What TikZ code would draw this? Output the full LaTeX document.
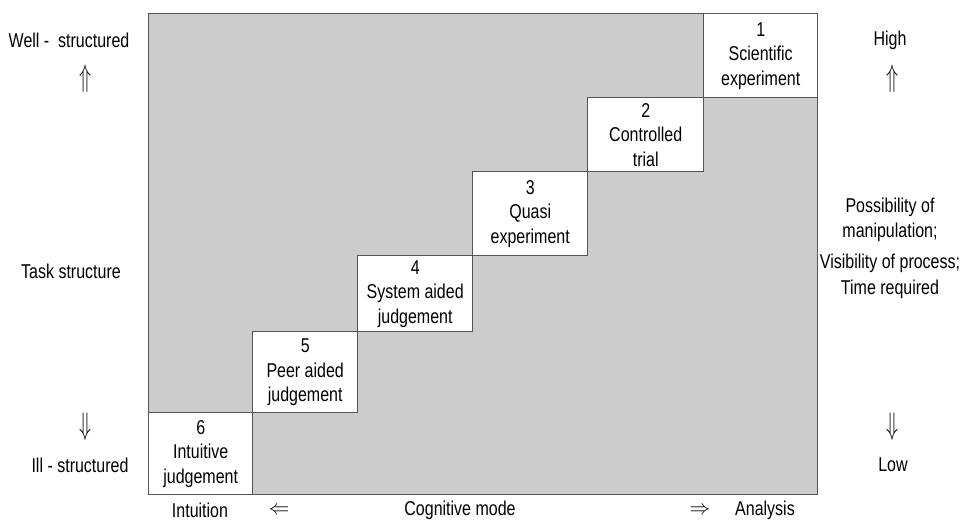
\documentclass[tikz,border=0pt]{standalone}
\usepackage{fontspec}
\setmainfont[FakeStretch=0.8]{Liberation Sans}
\definecolor{areagray}{HTML}{CCCCCC}
\definecolor{linegray}{HTML}{555555}
\newcommand{\vupa}{\scalebox{0.95}[1.5]{$\Uparrow$}}
\newcommand{\vdna}{\scalebox{0.95}[1.5]{$\Downarrow$}}
\begin{document}
\begin{tikzpicture}[x=1pt,y=-1pt,
  every node/.style={font=\fontsize{20}{24.5}\selectfont, text=black},
  area/.style={draw=linegray, line width=1.4pt, fill=areagray, anchor=north west, inner sep=0pt},
  stepbox/.style={draw=linegray, line width=1.4pt, fill=white, anchor=north west, align=center, inner sep=0pt},
  lab/.style={anchor=center, inner sep=0pt, align=center}]
\useasboundingbox (0,0) rectangle (968,521);
\node[area, minimum width=669pt, minimum height=481pt] (ar) at (148,13) {};
\node[stepbox, minimum width=114pt, minimum height=84pt] (b1) at (703,13) {1\\Scientific\\experiment};
\node[stepbox, minimum width=116pt, minimum height=74pt] (b2) at (587,97) {2\\Controlled\\trial};
\node[stepbox, minimum width=115pt, minimum height=84pt] (b3) at (472,171) {3\\Quasi\\experiment};
\node[stepbox, minimum width=115pt, minimum height=76pt] (b4) at (357,255) {4\\System aided\\judgement};
\node[stepbox, minimum width=105pt, minimum height=81pt] (b5) at (252,331) {5\\Peer aided\\judgement};
\node[stepbox, minimum width=104pt, minimum height=82pt] (b6) at (148,412) {6\\Intuitive\\judgement};
% left labels
\node[lab] (ws) at (69,40) {Well -\ \ structured};
\node[lab] (wu) at (86,79) {\vupa};
\node[lab] (ts) at (71,271) {Task structure};
\node[lab] (id) at (86,427) {\vdna};
\node[lab] (is) at (80,465) {Ill - structured};
% right labels
\node[lab] (hi) at (890,40) {High};
\node[lab] (hu) at (893,79) {\vupa};
\node[lab] (pm) at (890,220) {Possibility of\\manipulation;};
\node[lab] (vp) at (890,263) {Visibility of process;};
\node[lab] (tr) at (890,289) {Time required};
\node[lab] (ld) at (893,427) {\vdna};
\node[lab] (lo) at (893,465) {Low};
% bottom labels
\node[lab] (in) at (200,510) {Intuition};
\node[lab] (la) at (279,511) {$\Leftarrow$};
\node[lab] (cm) at (460,510) {Cognitive mode};
\node[lab] (ra) at (700,511) {$\Rightarrow$};
\node[lab] (an) at (765,510) {Analysis};
\end{tikzpicture}
\end{document}
